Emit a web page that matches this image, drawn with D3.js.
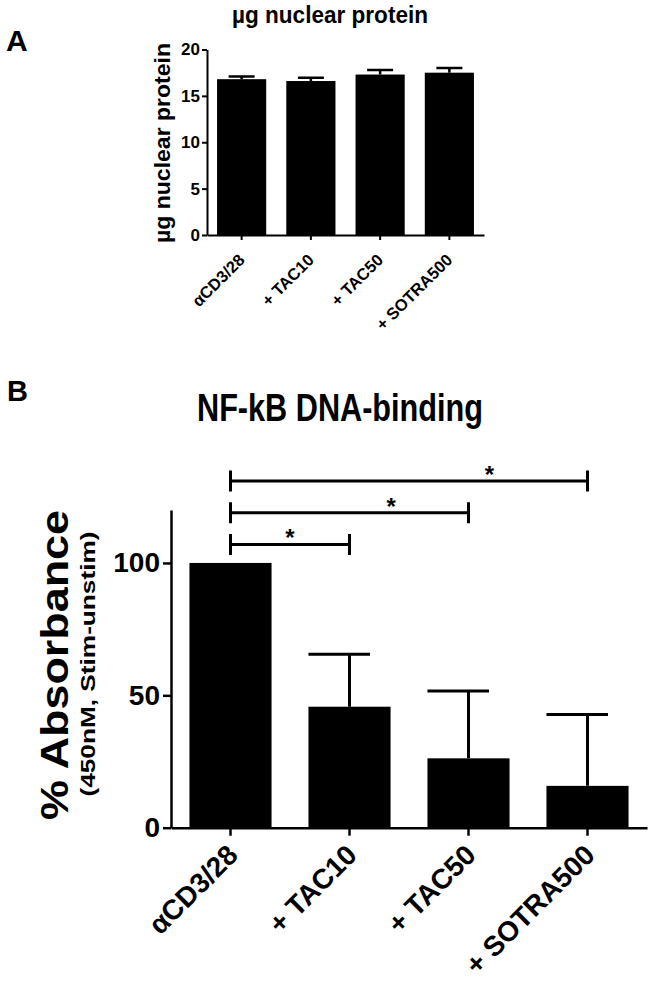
<!DOCTYPE html>
<html>
<head>
<meta charset="utf-8">
<script src="https://cdn.jsdelivr.net/npm/d3@7"></script>
<style>
  body { margin: 0; background: #fff; }
  text { font-family: "Liberation Sans", Arial, sans-serif; font-weight: bold; fill: #000; }
</style>
</head>
<body>
<div id="chart"></div>
<script>
// groups shared by both panels
var groups = ["αCD3/28", "+ TAC10", "+ TAC50", "+ SOTRA500"];

// panel A : ug nuclear protein
var proteinMean = [16.8, 16.6, 17.3, 17.5];
var proteinErr  = [0.3, 0.35, 0.5, 0.5];
var proteinTicks = [0, 5, 10, 15, 20];

// panel B : NF-kB DNA-binding (% absorbance)
var absMean = [100, 45.7, 26.2, 15.8];
var absErr  = [0, 19.8, 25.4, 27.0];
var absTicks = [0, 50, 100];

// significance brackets (group index pairs, level in % units)
var sigPairs = [[0, 1], [0, 2], [0, 3]];
var sigLevel = [107, 119, 131];
var sigLabel = ["*", "*", "*"];
var sigStarPos = [0.5, 0.675, 0.725];

var svg = d3.select("#chart")
  .append("svg")
    .attr("width", 652)
    .attr("height", 985);

// ---------------- panel A ----------------
var gA = svg.append("g");

var xA = d3.scaleBand()
  .domain(groups)
  .range([207, 484])
  .paddingInner(0.29)
  .paddingOuter(0.145);

var yA = d3.scaleLinear()
  .domain([0, 20])
  .range([235, 49.5]);

gA.append("text")
  .attr("x", 6).attr("y", 51)
  .style("font-size", "30px")
  .text("A");

gA.append("text")
  .attr("x", 330).attr("y", 23)
  .attr("text-anchor", "middle")
  .attr("textLength", 196)
  .attr("lengthAdjust", "spacingAndGlyphs")
  .style("font-size", "23px")
  .text("µg nuclear protein");

gA.append("text")
  .attr("transform", "translate(170,143) rotate(-90)")
  .attr("text-anchor", "middle")
  .attr("textLength", 200)
  .attr("lengthAdjust", "spacingAndGlyphs")
  .style("font-size", "22px")
  .text("µg nuclear protein");

var dataA = groups.map(function(g, i) { return {g: g, m: proteinMean[i], e: proteinErr[i]}; });

gA.selectAll(".barA")
  .data(dataA)
  .enter()
  .append("rect")
    .attr("class", "barA")
    .attr("x", function(d) { return xA(d.g); })
    .attr("y", function(d) { return yA(d.m); })
    .attr("width", xA.bandwidth())
    .attr("height", function(d) { return yA(0) - yA(d.m); })
    .attr("fill", "#000");

gA.selectAll(".errA")
  .data(dataA)
  .enter()
  .append("path")
    .attr("class", "errA")
    .attr("d", function(d) {
      var cx = xA(d.g) + xA.bandwidth() / 2, y0 = yA(d.m), y1 = yA(d.m + d.e);
      return "M" + cx + "," + y0 + "V" + y1 + "M" + (cx - 13) + "," + y1 + "H" + (cx + 13);
    })
    .attr("stroke", "#000")
    .attr("stroke-width", 2.5)
    .attr("fill", "none");

var axA = gA.append("g")
  .attr("transform", "translate(207,0)")
  .call(d3.axisLeft(yA).tickValues(proteinTicks).tickSize(5).tickSizeOuter(0).tickPadding(2));
axA.selectAll("text").style("font-size", "17px").style("font-family", null);
axA.selectAll("line, path").attr("stroke", "#000").attr("stroke-width", 2);

var axAx = gA.append("g")
  .attr("transform", "translate(0,235)")
  .call(d3.axisBottom(xA).tickSize(5).tickSizeOuter(0));
axAx.selectAll("line, path").attr("stroke", "#000").attr("stroke-width", 2);
axAx.selectAll("text")
  .attr("x", 0).attr("y", 0).attr("dy", 0)
  .attr("text-anchor", "end")
  .attr("transform", "translate(4,26) rotate(-45)")
  .style("font-size", "16.5px")
  .style("font-family", null);

// ---------------- panel B ----------------
var gB = svg.append("g");

var xB = d3.scaleBand()
  .domain(groups)
  .range([171, 647])
  .paddingInner(0.31)
  .paddingOuter(0.155);

var yB = d3.scaleLinear()
  .domain([0, 120])
  .range([827.7, 510]);

gB.append("text")
  .attr("x", 7).attr("y", 401)
  .style("font-size", "29px")
  .text("B");

gB.append("text")
  .attr("x", 340).attr("y", 421)
  .attr("text-anchor", "middle")
  .attr("textLength", 286)
  .attr("lengthAdjust", "spacingAndGlyphs")
  .style("font-size", "39px")
  .text("NF-kB DNA-binding");

gB.append("text")
  .attr("transform", "translate(68,665) rotate(-90)")
  .attr("text-anchor", "middle")
  .attr("textLength", 310)
  .attr("lengthAdjust", "spacingAndGlyphs")
  .style("font-size", "39px")
  .text("% Absorbance");

gB.append("text")
  .attr("transform", "translate(95,664) rotate(-90)")
  .attr("text-anchor", "middle")
  .attr("textLength", 265)
  .attr("lengthAdjust", "spacingAndGlyphs")
  .style("font-size", "20px")
  .text("(450nM, Stim-unstim)");

var dataB = groups.map(function(g, i) { return {g: g, m: absMean[i], e: absErr[i]}; });

gB.selectAll(".barB")
  .data(dataB)
  .enter()
  .append("rect")
    .attr("class", "barB")
    .attr("x", function(d) { return xB(d.g); })
    .attr("y", function(d) { return yB(d.m); })
    .attr("width", xB.bandwidth())
    .attr("height", function(d) { return yB(0) - yB(d.m); })
    .attr("fill", "#000");

gB.selectAll(".errB")
  .data(dataB.filter(function(d) { return d.e > 0; }))
  .enter()
  .append("path")
    .attr("class", "errB")
    .attr("d", function(d) {
      var bx = xB(d.g), cx = bx + xB.bandwidth() / 2, y0 = yB(d.m), y1 = yB(d.m + d.e);
      return "M" + cx + "," + y0 + "V" + y1 + "M" + bx + "," + y1 + "H" + (cx + xB.bandwidth() / 4);
    })
    .attr("stroke", "#000")
    .attr("stroke-width", 3)
    .attr("fill", "none");

var axB = gB.append("g")
  .attr("transform", "translate(171,0)")
  .call(d3.axisLeft(yB).tickValues(absTicks).tickSize(8).tickSizeOuter(0).tickPadding(3));
axB.selectAll("text").style("font-size", "28px").style("font-family", null);
axB.selectAll("line, path").attr("stroke", "#000").attr("stroke-width", 2.5);

var axBx = gB.append("g")
  .attr("transform", "translate(0,827.7)")
  .call(d3.axisBottom(xB).tickSize(8).tickSizeOuter(0));
axBx.selectAll("line, path").attr("stroke", "#000").attr("stroke-width", 2.5);
axBx.selectAll("text")
  .attr("x", 0).attr("y", 0).attr("dy", 0)
  .attr("text-anchor", "end")
  .attr("transform", "translate(9,29) rotate(-45)")
  .style("font-size", "28px")
  .style("font-family", null);

// significance brackets
var sig = sigPairs.map(function(p, i) {
  return {
    x1: xB(groups[p[0]]) + xB.bandwidth() / 2,
    x2: xB(groups[p[1]]) + xB.bandwidth() / 2,
    y: yB(sigLevel[i]),
    f: sigStarPos[i],
    t: sigLabel[i]
  };
});

gB.selectAll(".bracket")
  .data(sig)
  .enter()
  .append("path")
    .attr("class", "bracket")
    .attr("d", function(d) {
      return "M" + d.x1 + "," + (d.y - 10.5) + "V" + (d.y + 10.5) +
             "M" + d.x1 + "," + d.y + "H" + d.x2 +
             "M" + d.x2 + "," + (d.y - 10.5) + "V" + (d.y + 10.5);
    })
    .attr("stroke", "#000")
    .attr("stroke-width", 3)
    .attr("fill", "none");

gB.selectAll(".star")
  .data(sig)
  .enter()
  .append("text")
    .attr("class", "star")
    .attr("x", function(d) { return d.x1 + d.f * (d.x2 - d.x1); })
    .attr("y", function(d) { return d.y + 2; })
    .attr("text-anchor", "middle")
    .style("font-size", "24px")
    .text(function(d) { return d.t; });
</script>
</body>
</html>
